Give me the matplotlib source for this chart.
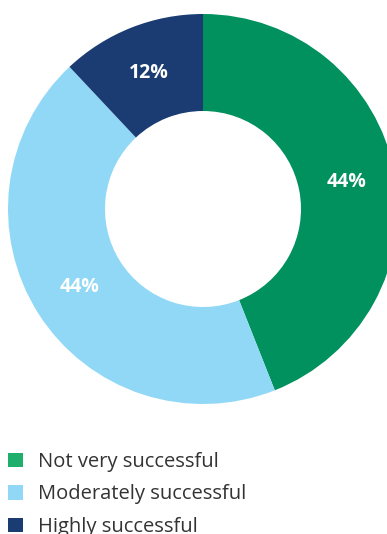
import matplotlib.pyplot as plt
from matplotlib.patches import Patch

# survey answers
labels = ["Not very successful", "Moderately successful", "Highly successful"]
shares = [44, 44, 12]
pie_colors = ["#00915f", "#90d8f5", "#1a3c73"]
legend_colors = ["#1fae6b", "#90d8f5", "#1a3c73"]

W, H = 387, 534
fig = plt.figure(figsize=(W / 100, H / 100), dpi=100)
ax = fig.add_axes([0, 0, 1, 1])

wedges, texts, autotexts = ax.pie(
    shares, colors=pie_colors, startangle=90, counterclock=False,
    center=(203, H - 209), radius=195, frame=True,
    wedgeprops=dict(width=97, linewidth=0),
    autopct=lambda p: f"{p:.0f}%", pctdistance=0.75,
    textprops=dict(color="white", fontsize=14, fontweight="bold", family="Open Sans"),
)
ax.set_xlim(0, W)
ax.set_ylim(0, H)
ax.set_aspect("equal")
ax.axis("off")

handles = [Patch(facecolor=c, edgecolor="none") for c in legend_colors]
fig.legend(handles, labels, loc="upper left", bbox_to_anchor=(0.02, 1 - 452 / H),
           frameon=False, handlelength=0.75, handleheight=0.75, handletextpad=0.75,
           labelspacing=0.62, borderaxespad=0, borderpad=0,
           prop=dict(family="Open Sans", size=14.5), labelcolor="#333333")

fig.savefig("out.png", dpi=100)
